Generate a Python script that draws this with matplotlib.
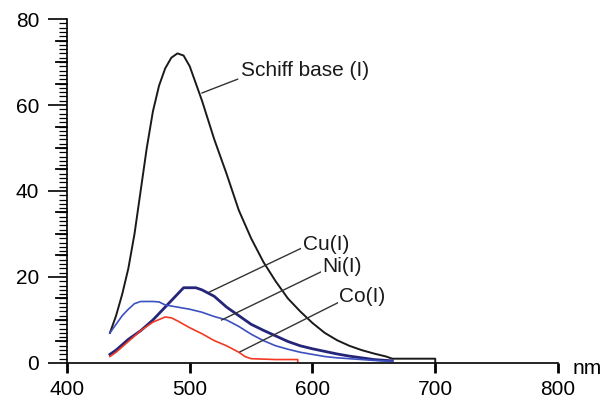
import matplotlib
matplotlib.use('Agg')
import matplotlib.pyplot as plt

plt.rcParams['font.family'] = ['Liberation Sans', 'DejaVu Sans']

# wavelength (nm) / intensity
schiff_nm = [435, 440, 445, 450, 455, 460, 465, 470, 475, 480, 485, 490, 495, 500, 505, 510,
             520, 530, 540, 550, 560, 570, 580, 590, 600, 610, 620, 630, 640, 650, 660, 665, 700, 700]
schiff_val = [7, 11, 16, 22, 30, 40, 50, 58.5, 64.5, 68.5, 71, 72, 71.5, 69, 65, 61,
              52, 44, 35.5, 29, 23.5, 19, 15, 12, 9.3, 7, 5.3, 4, 3, 2.2, 1.5, 1.0, 1.0, 0]

cu_nm = [435, 440, 450, 460, 470, 480, 490, 495, 505, 510, 520, 530, 540, 550, 560, 570,
         580, 590, 600, 610, 620, 630, 640, 650, 665]
cu_val = [2, 3, 5.5, 7.5, 10, 13, 16, 17.5, 17.5, 17, 15.5, 13, 11, 9, 7.6, 6.3,
          5, 4, 3.3, 2.7, 2.1, 1.6, 1.2, 0.8, 0.5]

ni_nm = [435, 440, 445, 450, 455, 460, 470, 475, 480, 490, 500, 510, 520, 530, 540, 550,
         560, 570, 580, 590, 600, 610, 620, 630, 640, 650, 665]
ni_val = [7, 9, 11, 12.5, 13.8, 14.3, 14.3, 14.2, 13.5, 13, 12.5, 11.8, 10.8, 10, 8.5, 6.7,
          5.2, 4, 3.2, 2.5, 2, 1.5, 1.2, 1, 0.8, 0.6, 0.4]

co_nm = [435, 440, 450, 460, 470, 480, 485, 490, 500, 510, 520, 530, 540, 545, 550, 560,
         570, 580, 588, 588]
co_val = [1.5, 2.5, 5, 7.5, 9.5, 10.7, 10.5, 9.8, 8.2, 6.8, 5.2, 4, 2.5, 1.5, 1, 0.9,
          0.8, 0.8, 0.8, 0]

labels = ['Schiff base (I)', 'Cu(I)', 'Ni(I)', 'Co(I)']
label_xy = [(542, 68), (592, 27.5), (608, 22.5), (622, 15.5)]
arrow_from = [(539, 66), (591, 26.7), (607, 21.2), (622, 14.2)]
arrow_to = [(510, 62.8), (516, 16.5), (526, 10), (541, 2.6)]

fig = plt.figure(figsize=(6.05, 4.01), dpi=100)
ax = fig.add_axes([0.1107, 0.0948, 0.8116, 0.8578])

ax.plot(schiff_nm, schiff_val, color='#1a1a1a', lw=1.4)
ax.plot(cu_nm, cu_val, color='#25257a', lw=2.0)
ax.plot(ni_nm, ni_val, color='#3d50c0', lw=1.2)
ax.plot(co_nm, co_val, color='#f23a22', lw=1.2)

for s, (tx, ty), (x0, y0), (x1, y1) in zip(labels, label_xy, arrow_from, arrow_to):
    ax.plot([x0, x1], [y0, y1], color='#333333', lw=1.0)
    ax.text(tx, ty, s, fontsize=15, va='center', ha='left', color='#1a1a1a',
            bbox=dict(facecolor='white', edgecolor='none', pad=1), zorder=5)

ax.set_xlim(400, 800)
ax.set_ylim(0, 80)
ax.set_xticks([400, 500, 600, 700, 800])
ax.set_yticks([0, 20, 40, 60, 80])
ax.set_yticks(range(0, 81), minor=True)
ax.spines['top'].set_visible(False)
ax.spines['right'].set_visible(False)
ax.spines['left'].set_linewidth(1.2)
ax.spines['bottom'].set_linewidth(1.2)
ax.tick_params(axis='x', length=7, width=2, labelsize=15, pad=5)
ax.tick_params(axis='y', which='major', length=14, width=1.2, labelsize=15, pad=6)
ax.tick_params(axis='y', which='minor', length=6, width=0.9)

# medium ticks every 5
ytr = ax.get_yaxis_transform()
for v in range(5, 80, 5):
    if v % 20:
        ax.plot([-0.022, 0], [v, v], color='black', lw=1.3, transform=ytr, clip_on=False)

ax.text(1.03, -1.3, 'nm', transform=ytr, fontsize=15, va='center', ha='left')

fig.savefig('out.png', dpi=100)
